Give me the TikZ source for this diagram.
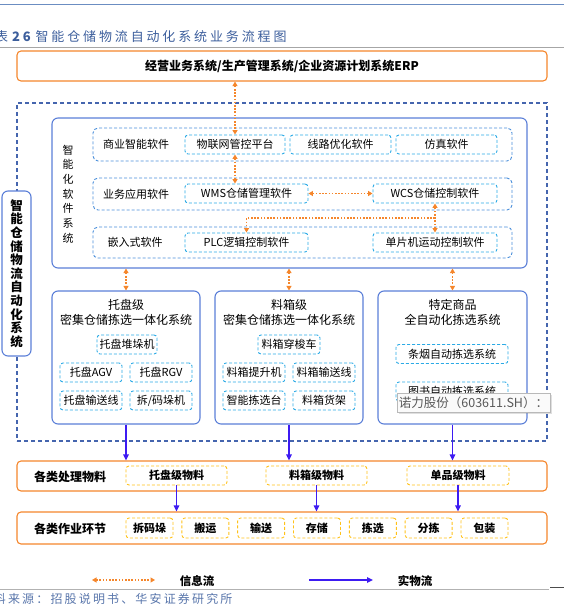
\documentclass[tikz,border=0pt]{standalone}
\usepackage{fontspec}
\setmainfont{Noto Sans CJK SC}
\usepackage{xcolor}
\usepackage{tikz}
\usetikzlibrary{arrows.meta}
\usetikzlibrary{shadows}

\definecolor{erporange}{HTML}{F5862B}
\definecolor{zoneblue}{HTML}{4565AE}
\definecolor{boxblue}{HTML}{5B7FD8}
\definecolor{rowblue}{HTML}{4A8FDB}
\definecolor{skyblue}{HTML}{2BAAE6}
\definecolor{goldline}{HTML}{FFC21A}
\definecolor{flowblue}{HTML}{3D1BF2}
\definecolor{capblue}{HTML}{3C5E9C}
\definecolor{headblue}{HTML}{6B8DC2}

\begin{document}
\begin{tikzpicture}[x=1pt, y=-1pt,
  every node/.style={inner sep=0pt, font=\fontsize{11}{13}\selectfont},
  orangebox/.style={draw=erporange, line width=1.1pt, rounded corners=4pt, minimum width=530pt},
  zonebox/.style={draw=zoneblue, line width=1.1pt, dash pattern=on 4pt off 3pt},
  bluebox/.style={draw=boxblue, fill=white, line width=1.1pt, rounded corners=6pt},
  rowbox/.style={draw=rowblue, line width=0.9pt, dash pattern=on 3pt off 2pt, rounded corners=5pt, minimum width=419pt},
  cyanbox/.style={draw=skyblue, line width=0.9pt, dash pattern=on 3pt off 2pt, rounded corners=3pt, minimum height=19pt},
  goldbox/.style={draw=goldline, line width=0.9pt, dash pattern=on 3pt off 2pt, rounded corners=3pt, font=\fontsize{11}{13}\selectfont\bfseries},
  infoflow/.style={{Triangle[length=4.5pt,width=5pt]}-{Triangle[length=4.5pt,width=5pt]}, draw=erporange, line width=1.6pt, dash pattern=on 1.6pt off 1.6pt},
  infoto/.style={-{Triangle[length=4.5pt,width=5pt]}, draw=erporange, line width=1.6pt, dash pattern=on 1.6pt off 1.6pt},
  matflow/.style={-{Triangle[length=6pt,width=5.5pt]}, draw=flowblue, line width=1.8pt},
]
\useasboundingbox (0,0) rectangle (564,605);
\clip (0,0) rectangle (564,605);

  % Heading
  \draw[headblue, line width=1.5pt] (0,4.5) -- (564,4.5);
  \node[anchor=west, text=capblue, font=\fontsize{13}{15}\selectfont\addfontfeatures{LetterSpace=22}] (caption) at (-5,37)
    {表\hspace{1pt}\textbf{26}\hspace{2pt}智能仓储物流自动化系统业务流程图};
  \draw[gray!70, line width=0.6pt] (0,47) -- (564,47);

  % Nodes
  \node[orangebox, minimum height=30pt, font=\fontsize{12}{14}\selectfont\bfseries] (erp) at (282,66)
    {经营业务系统/生产管理系统/企业资源计划系统ERP};

  \node[zonebox, minimum width=530pt, minimum height=338pt] (zone) at (282,272) {};
  \node[bluebox, minimum width=29pt, minimum height=165pt, align=center,
        font=\fontsize{12.5}{13.6}\selectfont\bfseries] (sys) at (16.5,273.5)
    {智\\能\\仓\\储\\物\\流\\自\\动\\化\\系\\统};

  \node[bluebox, minimum width=475pt, minimum height=150pt] (soft) at (289.5,193) {};
  \node[align=center, font=\fontsize{11}{14.7}\selectfont] (softlbl) at (68,194)
    {智\\能\\化\\软\\件\\系\\统};

  \node[rowbox, minimum height=33pt] (row1) at (302.5,144.5) {};
  \node[rowbox, minimum height=32pt] (row2) at (302.5,194) {};
  \node[rowbox, minimum height=31pt] (row3) at (302.5,242.5) {};
  \node (lbl1) at (136,144.5) {商业智能软件};
  \node (lbl2) at (136,194) {业务应用软件};
  \node (lbl3) at (135,242.5) {嵌入式软件};

  \node[cyanbox, minimum width=100pt] (iot) at (235,144.5) {物联网管控平台};
  \node[cyanbox, minimum width=101pt] (route) at (340.5,144.5) {线路优化软件};
  \node[cyanbox, minimum width=101pt] (sim) at (446.5,144.5) {仿真软件};
  \node[cyanbox, minimum width=123pt] (wms) at (246.5,193.5) {WMS仓储管理软件};
  \node[cyanbox, minimum width=124pt] (wcs) at (435,193.5) {WCS仓储控制软件};
  \node[cyanbox, minimum width=123pt] (plc) at (246.5,242.5) {PLC逻辑控制软件};
  \node[cyanbox, minimum width=124pt] (mcu) at (435,242.5) {单片机运动控制软件};

  \node[bluebox, minimum width=148pt, minimum height=133pt] (sub1) at (126,357.5) {};
  \node[bluebox, minimum width=148pt, minimum height=133pt] (sub2) at (289,357.5) {};
  \node[bluebox, minimum width=149pt, minimum height=133pt] (sub3) at (452.5,357.5) {};
  \node[align=center, font=\fontsize{12}{15}\selectfont] (title1) at (126,312.5) {托盘级\\密集仓储拣选一体化系统};
  \node[align=center, font=\fontsize{12}{15}\selectfont] (title2) at (289,312.5) {料箱级\\密集仓储拣选一体化系统};
  \node[align=center, font=\fontsize{12}{15}\selectfont] (title3) at (452.5,312.5) {特定商品\\全自动化拣选系统};

  \node[cyanbox, minimum width=60pt] (stacker) at (127,344.5) {托盘堆垛机};
  \node[cyanbox, minimum width=62pt] (agv) at (91,372.5) {托盘AGV};
  \node[cyanbox, minimum width=62pt] (rgv) at (161,372.5) {托盘RGV};
  \node[cyanbox, minimum width=62pt] (pconv) at (91,400.5) {托盘输送线};
  \node[cyanbox, minimum width=62pt] (palletizer) at (161,400.5) {拆/码垛机};

  \node[cyanbox, minimum width=62pt] (shuttle) at (289,344.5) {料箱穿梭车};
  \node[cyanbox, minimum width=62pt] (lift) at (254,372.5) {料箱提升机};
  \node[cyanbox, minimum width=62pt] (bconv) at (324,372.5) {料箱输送线};
  \node[cyanbox, minimum width=62pt] (station) at (254,400.5) {智能拣选台};
  \node[cyanbox, minimum width=62pt] (rack) at (324,400.5) {料箱货架};

  \node[cyanbox, minimum width=112pt] (cig) at (452,354) {条烟自动拣选系统};
  \node[cyanbox, minimum width=112pt] (book) at (452,391.5) {图书自动拣选系统};

  \node[orangebox, minimum height=30pt] (mat) at (282,476) {};
  \node[font=\fontsize{12}{14}\selectfont\bfseries] (matlbl) at (70,477) {各类处理物料};
  \node[goldbox, minimum width=101pt, minimum height=19pt] (m1) at (176.5,475.5) {托盘级物料};
  \node[goldbox, minimum width=101pt, minimum height=19pt] (m2) at (316.5,475.5) {料箱级物料};
  \node[goldbox, minimum width=102pt, minimum height=19pt] (m3) at (458,475.5) {单品级物料};

  \node[orangebox, minimum height=32pt] (work) at (282,528) {};
  \node[font=\fontsize{12}{14}\selectfont\bfseries] (worklbl) at (70,529) {各类作业环节};
  \foreach \t [count=\i from 0] in {拆码垛,搬运,输送,存储,拣选,分拣,包装}
    \node[goldbox, minimum width=47pt, minimum height=20pt] (w\i) at (149.5+55.83*\i,528) {\t};

  % Edges
  \draw[infoflow] (erp.south -| iot) -- (iot.north);
  \draw[infoflow] (iot.south) -- (wms.north -| iot.south);
  \draw[infoflow] (wms.east) -- (wcs.west);
  \draw[infoflow] (wcs.south) -- (mcu.north);
  \coordinate (branch) at (435,218);
  \draw[infoto] (branch) -| (plc.north);
  \foreach \s in {sub1,sub2,sub3}
    \draw[infoflow] (soft.south -| \s) -- (\s.north);
  \foreach \s in {sub1,sub2,sub3}
    \draw[matflow] (\s.south) -- (\s.south |- mat.north);
  \foreach \m in {m1,m2,m3}
    \draw[matflow] (\m.south) -- (\m.south |- work.north);

  % Viewer tip
  \node[draw=gray!55, fill=gray!4, minimum width=153pt, minimum height=19pt, text=black!65,
        font=\fontsize{12.5}{14}\selectfont,
        drop shadow={shadow xshift=1.5pt, shadow yshift=-1.5pt, opacity=0.25}] (tip) at (473.5,402.5)
    {诺力股份（603611.SH）：};

  % Legend
  \coordinate (infoL) at (92,580);
  \coordinate (infoR) at (155,580);
  \draw[infoflow] (infoL) -- (infoR);
  \node[font=\fontsize{11.5}{13}\selectfont\bfseries] (infolbl) at (197,581) {信息流};
  \coordinate (matL) at (309,580);
  \coordinate (matR) at (373,580);
  \draw[matflow] (matL) -- (matR);
  \node[font=\fontsize{11.5}{13}\selectfont\bfseries] (matflowlbl) at (415,581) {实物流};

  % Source
  \draw[gray!60, line width=0.6pt] (0,589) -- (549,589);
  \draw[black!70, line width=0.8pt] (550,587) -- (564,587);
  \node[anchor=west, text=capblue!85, font=\fontsize{12}{14}\selectfont\addfontfeatures{LetterSpace=18}] (source) at (-6.3,599)
    {料来源：招股说明书、华安证券研究所};

\end{tikzpicture}
\end{document}
